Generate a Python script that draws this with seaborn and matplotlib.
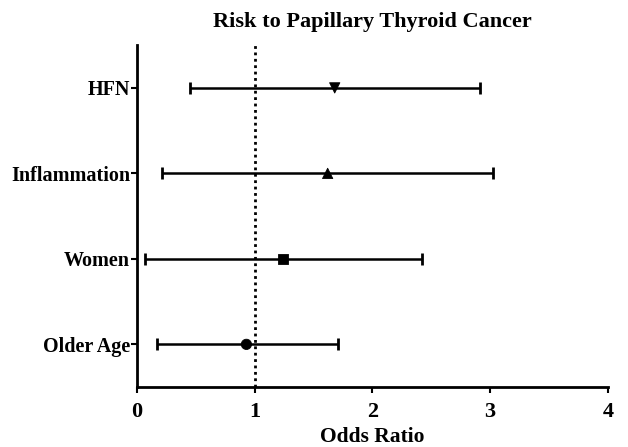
import matplotlib
matplotlib.use("Agg")
import matplotlib.pyplot as plt
import seaborn as sns
import pandas as pd

categories = ["Older Age", "Women", "Inflammation", "HFN"]
odds_ratio = [0.93, 1.24, 1.62, 1.68]
ci_low = [0.17, 0.07, 0.21, 0.45]
ci_high = [1.71, 2.42, 3.02, 2.91]
markers = ["o", "s", "^", "v"]
xticks = [0, 1, 2, 3, 4]

sns.set_theme(style="ticks")
plt.rcParams['font.family'] = ['Liberation Serif', 'DejaVu Serif']
plt.rcParams['text.color'] = '#000000'
plt.rcParams['axes.labelcolor'] = '#000000'

df = pd.DataFrame({"cat": categories, "or": odds_ratio, "lo": ci_low, "hi": ci_high})
df["y"] = range(len(df))

fig = plt.figure(figsize=(6.28, 4.47), dpi=100)
ax = fig.add_axes([0.218, 0.134, 0.750, 0.765])

for i, row in df.iterrows():
    ax.errorbar(row["or"], row["y"], xerr=[[row["or"] - row["lo"]], [row["hi"] - row["or"]]],
                fmt="none", ecolor="#000000", elinewidth=1.8, capsize=4.5, capthick=2, zorder=2)

sns.scatterplot(data=df, x="or", y="y", style="cat", markers=dict(zip(categories, markers)),
                color="#000000", s=55, edgecolor="#000000", legend=False, ax=ax, zorder=3)

ax.axvline(1, color="#000000", linestyle=(0, (1, 1.3)), linewidth=2, zorder=1)

ax.set_xlim(0, 4)
ax.set_ylim(-0.5, 3.5)
ax.set_xticks(xticks)
ax.set_xticklabels([str(t) for t in xticks], fontsize=16, fontweight="bold", color="#000000")
ax.set_yticks(df["y"])
ax.set_yticklabels(categories, fontsize=14.5, fontweight="bold", color="#000000")
ax.set_xlabel("Odds Ratio", fontsize=15.5, fontweight="bold", labelpad=3, color="#000000")
ax.set_ylabel("")
ax.set_title("Risk to Papillary Thyroid Cancer", fontsize=16, fontweight="bold", pad=13, color="#000000")

for s in ["top", "right"]:
    ax.spines[s].set_visible(False)
for s in ["left", "bottom"]:
    ax.spines[s].set_linewidth(2)
    ax.spines[s].set_color("#000000")
ax.tick_params(axis="both", direction="out", length=4, width=1.5, colors="#000000")
ax.tick_params(axis="x", pad=7)
ax.tick_params(axis="y", pad=1)

fig.savefig("out.png", dpi=100, facecolor="white")
